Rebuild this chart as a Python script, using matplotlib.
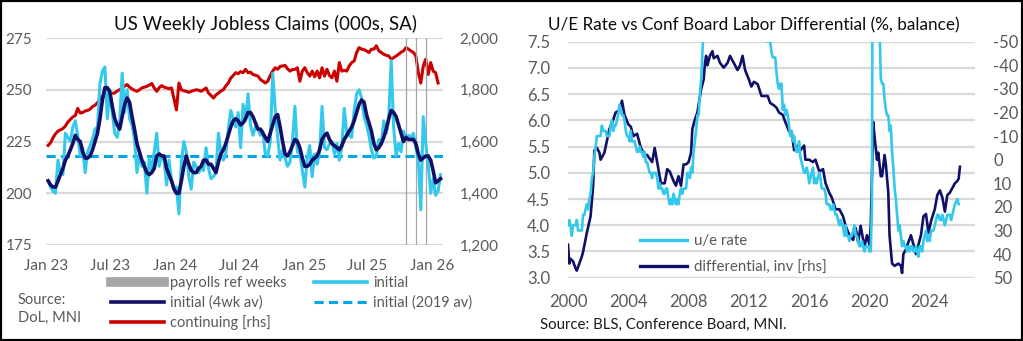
import numpy as np
import pandas as pd
import matplotlib
matplotlib.use("Agg")
import matplotlib.pyplot as plt
import matplotlib.dates as mdates
from matplotlib.lines import Line2D
from matplotlib.patches import Rectangle
from matplotlib.ticker import FuncFormatter

plt.rcParams['font.family'] = ['Lato', 'DejaVu Sans']
plt.rcParams['axes.unicode_minus'] = False

#? weekly jobless claims (000s, SA), weeks ending Saturday from 7 Jan 2023
initial = [206, 203, 201, 200, 216, 210, 209, 229, 227, 225, 232, 235, 228, 218, 222, 210, 220, 223, 226, 231,
           232, 253, 259, 261, 236, 250, 239, 229, 227, 234, 258, 239, 250, 236, 233, 226, 210, 219, 213, 215,
           200, 217, 211, 220, 229, 213, 218, 216, 204, 216, 206, 202,
           203, 190, 215, 225, 220, 208, 202, 215, 213, 210, 212, 211, 222, 212, 207, 208, 210, 229, 220, 216,
           219, 231, 240, 236, 232, 239, 222, 243, 235, 248, 233, 228, 232, 231, 228, 230, 219, 218, 225, 258,
           241, 227, 216, 221, 217, 213, 215, 225, 242, 220, 219, 211,
           203, 217, 223, 208, 219, 214, 220, 242, 222, 221, 224, 225, 219, 224, 216, 222, 241, 229, 228, 227,
           240, 248, 250, 246, 237, 233, 228, 221, 217, 218, 226, 224, 235, 229, 236, 264, 232, 218, 224, 220,
           230, 226, 228, 227, 229, 222, 216, 192, 237, 224, 214, 200, 207, 199, 201, 209]
initial_4wk = [206, 204, 203, 203, 206, 209, 212, 216, 218, 221, 224, 228, 226, 225, 220, 217, 217, 218, 221, 225,
               229, 236, 245, 251, 251, 249, 242, 236, 233, 231, 237, 243, 246, 244, 237, 231, 224, 220, 216, 213,
               210, 209, 210, 212, 218, 219, 218, 218, 212, 209, 206, 202,
               200, 200, 206, 213, 218, 214, 211, 210, 210, 212, 213, 216, 216, 214, 214, 212, 210, 215, 219, 221,
               224, 228, 232, 235, 236, 235, 233, 234, 236, 239, 239, 237, 234, 231, 231, 229, 227, 225, 229, 233,
               237, 238, 232, 225, 219, 218, 220, 223, 226, 225, 222, 217,
               213, 213, 214, 216, 217, 218, 221, 226, 228, 229, 226, 224, 223, 222, 221, 223, 226, 228, 230, 232,
               235, 239, 243, 245, 244, 238, 234, 230, 224, 221, 222, 224, 227, 231, 236, 240, 239, 237, 233, 229,
               225, 227, 226, 226, 226, 224, 219, 216, 217, 218, 218, 216, 211, 205, 206, 207]
continuing = [1585, 1595, 1615, 1630, 1640, 1645, 1650, 1660, 1675, 1685, 1695, 1700, 1728, 1710, 1712, 1718,
              1720, 1725, 1735, 1740, 1750, 1762, 1775, 1782, 1778, 1784, 1786, 1788, 1795, 1800, 1808, 1814,
              1820, 1810, 1803, 1798, 1794, 1800, 1807, 1810, 1813, 1818, 1824, 1807, 1794, 1808, 1816, 1810,
              1807, 1804, 1807, 1765,
              1722, 1826, 1800, 1796, 1794, 1790, 1794, 1797, 1800, 1798, 1794, 1800, 1807, 1787, 1778, 1768,
              1780, 1787, 1795, 1800, 1815, 1826, 1845, 1855, 1866, 1862, 1870, 1866, 1879, 1866, 1868, 1859,
              1856, 1853, 1840, 1833, 1826, 1833, 1855, 1872, 1885, 1879, 1890, 1892, 1894, 1881, 1872, 1878,
              1879, 1885, 1833, 1872,
              1885, 1866, 1853, 1872, 1850, 1872, 1846, 1885, 1853, 1879, 1855, 1846, 1872, 1833, 1905, 1872,
              1875, 1872, 1892, 1905, 1911, 1944, 1963, 1957, 1955, 1950, 1944, 1957, 1957, 1970, 1950, 1944,
              1937, 1933, 1931, 1918, 1924, 1930, 1937, 1945, 1950, 1963, 1957, 1950, 1944, 1931, 1866, 1826,
              1892, 1918, 1859, 1905, 1872, 1866, 1826]
initial_2019_avg = 218
ref_weeks = ['2025-10-18', '2025-11-15', '2025-12-13']

#? monthly unemployment rate (%), Jan 2000 onwards (Oct 2025 not published)
ue_rate = [4.0, 4.1, 4.0, 3.8, 4.0, 4.0, 4.0, 4.1, 3.9, 3.9, 3.9, 3.9,
           4.2, 4.2, 4.3, 4.4, 4.3, 4.5, 4.6, 4.9, 5.0, 5.3, 5.5, 5.7,
           5.7, 5.7, 5.7, 5.9, 5.8, 5.8, 5.8, 5.7, 5.7, 5.7, 5.9, 6.0,
           5.8, 5.9, 5.9, 6.0, 6.1, 6.3, 6.2, 6.1, 6.1, 6.0, 5.8, 5.7,
           5.7, 5.6, 5.8, 5.6, 5.6, 5.6, 5.5, 5.4, 5.4, 5.5, 5.4, 5.4,
           5.3, 5.4, 5.2, 5.2, 5.1, 5.0, 5.0, 4.9, 5.0, 5.0, 5.0, 4.9,
           4.7, 4.8, 4.7, 4.7, 4.6, 4.6, 4.7, 4.7, 4.5, 4.4, 4.5, 4.4,
           4.6, 4.5, 4.4, 4.5, 4.4, 4.6, 4.7, 4.6, 4.7, 4.7, 4.7, 5.0,
           5.0, 4.9, 5.1, 5.0, 5.4, 5.6, 5.8, 6.1, 6.1, 6.5, 6.8, 7.3,
           7.8, 8.3, 8.7, 9.0, 9.4, 9.5, 9.5, 9.6, 9.8, 10.0, 9.9, 9.9,
           9.8, 9.8, 9.9, 9.9, 9.6, 9.4, 9.4, 9.5, 9.5, 9.4, 9.8, 9.3,
           9.1, 9.0, 9.0, 9.1, 9.0, 9.1, 9.0, 9.0, 9.0, 8.8, 8.6, 8.5,
           8.3, 8.3, 8.2, 8.2, 8.2, 8.2, 8.2, 8.1, 7.8, 7.8, 7.7, 7.9,
           8.0, 7.7, 7.5, 7.6, 7.5, 7.5, 7.3, 7.2, 7.2, 7.2, 6.9, 6.7,
           6.6, 6.7, 6.7, 6.2, 6.3, 6.1, 6.2, 6.1, 5.9, 5.7, 5.8, 5.6,
           5.7, 5.5, 5.4, 5.4, 5.6, 5.3, 5.2, 5.1, 5.0, 5.0, 5.1, 5.0,
           4.8, 4.9, 5.0, 5.1, 4.8, 4.9, 4.8, 4.9, 5.0, 4.9, 4.7, 4.7,
           4.7, 4.6, 4.4, 4.4, 4.4, 4.3, 4.3, 4.4, 4.3, 4.2, 4.2, 4.1,
           4.0, 4.1, 4.0, 4.0, 3.8, 4.0, 3.8, 3.8, 3.7, 3.8, 3.8, 3.9,
           4.0, 3.8, 3.8, 3.7, 3.6, 3.6, 3.7, 3.6, 3.5, 3.6, 3.6, 3.6,
           3.5, 3.5, 4.4, 14.8, 13.2, 11.0, 10.2, 8.4, 7.8, 6.8, 6.7, 6.7,
           6.4, 6.2, 6.1, 6.1, 5.8, 5.9, 5.4, 5.1, 4.7, 4.5, 4.2, 3.9,
           4.0, 3.8, 3.6, 3.7, 3.6, 3.6, 3.5, 3.6, 3.5, 3.6, 3.6, 3.5,
           3.5, 3.6, 3.5, 3.4, 3.6, 3.6, 3.5, 3.7, 3.8, 3.9, 3.7, 3.8,
           3.7, 3.9, 3.9, 3.9, 4.0, 4.1, 4.2, 4.2, 4.1, 4.1, 4.2, 4.1,
           4.0, 4.1, 4.2, 4.2, 4.2, 4.1, 4.2, 4.3, 4.4, np.nan, 4.5, 4.4]

#? Conference Board labor differential (jobs plentiful - hard to get, %)
diff_months = ['2000-01', '2000-02', '2000-03', '2000-05', '2000-07', '2000-08', '2000-10', '2000-12',
               '2001-01', '2001-04', '2001-07', '2001-09', '2001-10', '2001-12', '2002-02', '2002-03',
               '2002-06', '2002-08', '2002-10', '2003-01', '2003-03', '2003-06', '2003-08', '2003-10',
               '2004-01', '2004-03', '2004-05', '2004-08', '2004-11', '2005-02', '2005-04', '2005-08',
               '2005-10', '2006-01', '2006-03', '2006-06', '2006-08', '2006-10', '2007-01', '2007-03',
               '2007-05', '2007-07', '2007-09', '2007-11', '2008-01', '2008-03', '2008-04', '2008-06',
               '2008-08', '2008-11', '2009-01', '2009-02', '2009-03', '2009-04', '2009-06', '2009-08',
               '2009-09', '2009-12', '2010-02', '2010-05', '2010-08', '2010-10', '2011-01', '2011-04',
               '2011-06', '2011-08', '2011-10', '2012-01', '2012-03', '2012-05', '2012-08', '2012-11',
               '2013-01', '2013-04', '2013-06', '2013-09', '2013-11', '2014-01', '2014-04', '2014-06',
               '2014-09', '2014-11', '2015-01', '2015-04', '2015-06', '2015-09', '2015-10', '2016-01',
               '2016-04', '2016-06', '2016-09', '2016-12', '2017-02', '2017-05', '2017-07', '2017-10',
               '2018-01', '2018-04', '2018-06', '2018-09', '2018-12', '2019-02', '2019-04', '2019-06',
               '2019-09', '2019-11', '2020-01', '2020-02', '2020-04', '2020-05', '2020-07', '2020-08',
               '2020-10', '2020-11', '2021-01', '2021-02', '2021-04', '2021-05', '2021-07', '2021-09',
               '2021-12', '2022-02', '2022-03', '2022-04', '2022-06', '2022-08', '2022-10', '2022-12',
               '2023-02', '2023-04', '2023-06', '2023-08', '2023-10', '2023-12', '2024-02', '2024-05',
               '2024-07', '2024-09', '2024-11', '2025-01', '2025-03', '2025-05', '2025-07', '2025-09',
               '2025-11', '2025-12', '2026-01']
diff_vals = [36, 44, 42, 43, 46, 47, 44, 41,
             39, 31, 24, 11, -4, -5, -3, 0,
             -3, -8, -13, -17, -20, -21, -25, -19,
             -15, -14, -10, -11, -5, -2, -2, 1,
             -5, 4, 10, 10, 4, 5, 9, 11,
             7, 11, 2, 2, 1, -3, -13, -17,
             -20, -30, -34, -41, -44, -40, -44, -46,
             -43, -44, -41, -39, -41, -44, -41, -38,
             -40, -44, -38, -34, -31, -33, -32, -27,
             -27, -27, -24, -23, -22, -20, -19, -16,
             -12, -12, -4, -6, -4, -6, 0, 0,
             1, 0, 5, 4, 10, 14, 16, 21,
             21, 24, 28, 32, 34, 29, 35, 28,
             37, 32, 36, 28, -16, -10, 0, -3,
             7, 7, -2, 2, 14, 32, 44, 45,
             44, 45, 48, 40, 38, 35, 32, 36,
             40, 36, 32, 24, 23, 31, 26, 21,
             15, 13, 16, 22, 15, 14, 12, 10,
             9, 8, 3]

LIGHT = '#33C8EC'
NAVY = '#101068'
RED = '#CC0000'
DASH = '#00A6E6'
GRID = '#D9D9D9'
TXT = '#595959'

W, H = 1023, 341
fig = plt.figure(figsize=(W / 100, H / 100), dpi=100)

def frac(x0, y0, x1, y1):
    return [x0 / W, 1 - y1 / H, (x1 - x0) / W, (y1 - y0) / H]

# ---------- left panel: jobless claims ----------
weeks = pd.date_range('2023-01-07', periods=len(initial), freq='7D')

ax = fig.add_axes(frac(46, 38, 443, 245))
axc = ax.twinx()
ax.set_zorder(axc.get_zorder() + 1)
ax.patch.set_visible(False)

for d in ref_weeks:
    ax.axvline(pd.Timestamp(d), color='#A6A6A6', lw=0.9, zorder=1)
ax.axhline(initial_2019_avg, color=DASH, lw=2.2, ls=(0, (3, 1.7)), zorder=2)
ax.plot(weeks, initial, color=LIGHT, lw=2.2, zorder=3)
ax.plot(weeks, initial_4wk, color=NAVY, lw=2.6, zorder=4)
axc.plot(weeks[:len(continuing)], continuing, color=RED, lw=2.2)

ax.set_ylim(175, 275)
ax.set_yticks([175, 200, 225, 250, 275])
axc.set_ylim(1200, 2000)
axc.set_yticks([1200, 1400, 1600, 1800, 2000])
axc.yaxis.set_major_formatter(FuncFormatter(lambda v, p: f"{int(v):,}"))
ax.set_xlim(pd.Timestamp('2023-01-01'), pd.Timestamp('2026-01-31'))
ax.xaxis.set_major_locator(mdates.MonthLocator(bymonth=[1, 7]))
ax.xaxis.set_major_formatter(mdates.DateFormatter('%b %y'))
for v in [175, 200, 225, 250, 275]:
    axc.axhline(1200 + (v - 175) * 8, color=GRID, lw=1.6, zorder=0)
for a in (ax, axc):
    for s in a.spines.values():
        s.set_visible(False)
ax.tick_params(axis='y', length=0, pad=10, labelsize=11, labelcolor=TXT)
ax.tick_params(axis='x', length=0, pad=10, labelsize=11, labelcolor=TXT)
axc.tick_params(axis='y', length=0, pad=12, labelsize=11, labelcolor=TXT)

fig.text(265 / W, 1 - 24 / H, 'US Weekly Jobless Claims (000s, SA)', ha='center', va='center',
         fontsize=13.5, color='#0D0D0D')

handles = [Line2D([], [], color='#A6A6A6', lw=7),
           Line2D([], [], color=NAVY, lw=2.6),
           Line2D([], [], color=RED, lw=2.6),
           Line2D([], [], color=LIGHT, lw=2.6),
           Line2D([], [], color=DASH, lw=2.2, ls=(0, (3, 1.7)))]
labels = ['payrolls ref weeks', 'initial (4wk av)', 'continuing [rhs]', 'initial', 'initial (2019 av)']
fig.legend(handles, labels, ncol=2, loc='upper left', bbox_to_anchor=(111 / W, 1 - 276 / H),
           frameon=False, fontsize=10.5, labelcolor=TXT, handlelength=3.6, handletextpad=0.45,
           columnspacing=1.9, labelspacing=0.38, borderaxespad=0, borderpad=0)
fig.text(18 / W, 1 - 309 / H, 'Source:\nDoL, MNI', ha='left', va='center', fontsize=10.5,
         color=TXT, linespacing=1.35)

# ---------- right panel: u/e rate vs labor differential ----------
months = pd.date_range('2000-01-01', periods=len(ue_rate), freq='MS')
ue = pd.Series(ue_rate, index=months).dropna()
diff_dates = pd.to_datetime(diff_months)

bx = fig.add_axes(frac(568, 41.7, 975, 277.7))
bx2 = bx.twinx()
bx.set_zorder(bx2.get_zorder() + 1)
bx.patch.set_visible(False)

bx.plot(ue.index, ue.values, color=LIGHT, lw=1.9)
bx2.plot(diff_dates, diff_vals, color=NAVY, lw=1.9)

bx.set_ylim(3.0, 7.5)
bx.set_yticks(np.arange(3.0, 7.51, 0.5))
bx.yaxis.set_major_formatter(FuncFormatter(lambda v, p: f"{v:.1f}"))
bx2.set_ylim(50, -50)
bx2.set_yticks(np.arange(-50, 51, 10))
bx2.yaxis.set_major_formatter(FuncFormatter(lambda v, p: f"{int(round(v))}"))
bx.set_xlim(pd.Timestamp('2000-01-01'), pd.Timestamp('2027-01-01'))
bx.xaxis.set_major_locator(mdates.YearLocator(4))
bx.xaxis.set_major_formatter(mdates.DateFormatter('%Y'))
for v in np.arange(3.0, 7.51, 0.5):
    bx2.axhline(50 - (v - 3.0) / 4.5 * 100, color=GRID, lw=1.6, zorder=0)
for a in (bx, bx2):
    for s in a.spines.values():
        s.set_visible(False)
bx.tick_params(axis='y', length=0, pad=13, labelsize=12, labelcolor=TXT)
bx.tick_params(axis='x', length=0, pad=12, labelsize=12, labelcolor=TXT)
bx2.tick_params(axis='y', length=0, pad=13, labelsize=12, labelcolor=TXT)

fig.text(548 / W, 1 - 25 / H, 'U/E Rate vs Conf Board Labor Differential (%, balance)', ha='left',
         va='center', fontsize=12.3, color='#0D0D0D')
bx.legend([Line2D([], [], color=LIGHT, lw=2.4), Line2D([], [], color=NAVY, lw=2.4)],
          ['u/e rate', 'differential, inv [rhs]'], loc='lower left',
          bbox_to_anchor=(72 / 407, 3 / 236), frameon=False, fontsize=10.8, labelcolor=TXT,
          handlelength=3.1, handletextpad=0.5, labelspacing=0.85, borderaxespad=0, borderpad=0)
fig.text(540 / W, 1 - 325 / H, 'Source: BLS, Conference Board, MNI.', ha='left', va='center',
         fontsize=10.8, color='#1A1A1A')

# outer frame
fig.add_artist(Rectangle((0, 0), 1, 1, transform=fig.transFigure, fill=False, ec='black', lw=3))

fig.savefig('out.png', dpi=100)
